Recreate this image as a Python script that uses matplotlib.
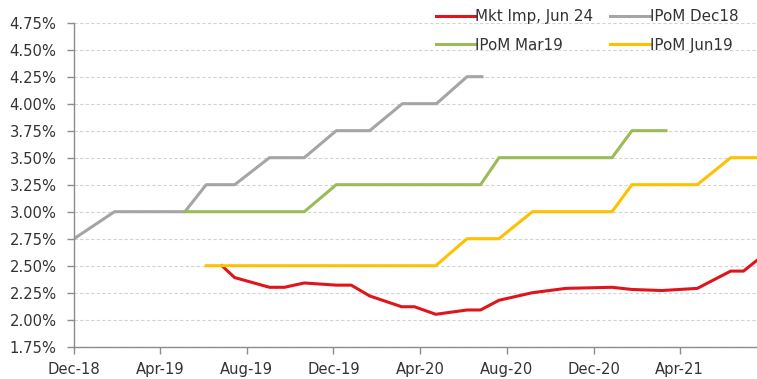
import matplotlib
matplotlib.use("Agg")
import matplotlib.pyplot as plt
import matplotlib.dates as mdates
from matplotlib.ticker import FuncFormatter, MultipleLocator
import pandas as pd

plt.rcParams['font.family'] = ['DejaVu Sans']

# Policy rate paths (%), dated at each monetary policy meeting
mkt_dates = ["2019-06-27", "2019-07-15", "2019-09-02", "2019-09-23", "2019-10-21",
             "2019-12-05", "2019-12-26", "2020-01-21", "2020-03-06", "2020-03-24",
             "2020-04-23", "2020-06-06", "2020-06-25", "2020-07-21", "2020-09-06",
             "2020-10-23", "2020-12-27", "2021-01-24", "2021-03-07", "2021-04-26",
             "2021-06-12", "2021-06-30", "2021-07-19"]
mkt_vals = [2.50, 2.39, 2.30, 2.30, 2.34,
            2.32, 2.32, 2.22, 2.12, 2.12,
            2.05, 2.09, 2.09, 2.18, 2.25,
            2.29, 2.30, 2.28, 2.27, 2.29,
            2.45, 2.45, 2.55]

dec18_dates = ["2018-12-01", "2019-01-27", "2019-05-06", "2019-06-05", "2019-07-15",
               "2019-09-02", "2019-10-21", "2019-12-05", "2020-01-21", "2020-03-07",
               "2020-04-24", "2020-06-06", "2020-06-27"]
dec18_vals = [2.75, 3.00, 3.00, 3.25, 3.25,
              3.50, 3.50, 3.75, 3.75, 4.00,
              4.00, 4.25, 4.25]

mar19_dates = ["2019-05-06", "2019-10-21", "2019-12-05", "2020-06-25", "2020-07-21",
               "2020-12-27", "2021-01-24", "2021-03-13"]
mar19_vals = [3.00, 3.00, 3.25, 3.25, 3.50,
              3.50, 3.75, 3.75]

jun19_dates = ["2019-06-05", "2020-04-23", "2020-06-06", "2020-07-21", "2020-09-06",
               "2020-12-27", "2021-01-24", "2021-04-26", "2021-06-12", "2021-07-19"]
jun19_vals = [2.50, 2.50, 2.75, 2.75, 3.00,
              3.00, 3.25, 3.25, 3.50, 3.50]

x_start, x_end = "2018-12-01", "2021-07-19"
y_min, y_max, y_step = 1.75, 4.75, 0.25

fig = plt.figure(figsize=(7.57, 3.79), dpi=100)
ax = fig.add_axes([0.0978, 0.0852, 0.9022, 0.855])

lw = 2.2
l_mkt, = ax.plot(pd.to_datetime(mkt_dates), mkt_vals, color="#E0141B", lw=lw,
                 label="Mkt Imp, Jun 24", solid_joinstyle="round")
l_dec, = ax.plot(pd.to_datetime(dec18_dates), dec18_vals, color="#A5A5A5", lw=lw,
                 label="IPoM Dec18")
l_mar, = ax.plot(pd.to_datetime(mar19_dates), mar19_vals, color="#9BBB59", lw=lw,
                 label="IPoM Mar19")
l_jun, = ax.plot(pd.to_datetime(jun19_dates), jun19_vals, color="#FFC000", lw=lw,
                 label="IPoM Jun19")

ax.set_xlim(pd.Timestamp(x_start), pd.Timestamp(x_end))
ax.set_ylim(y_min, y_max)

ax.yaxis.set_major_locator(MultipleLocator(y_step))
ax.yaxis.set_major_formatter(FuncFormatter(lambda v, p: f"{v:.2f}%"))
ax.xaxis.set_major_locator(mdates.MonthLocator(bymonth=[4, 8, 12], bymonthday=1))
ax.xaxis.set_major_formatter(mdates.DateFormatter("%b-%y"))

ax.grid(axis="y", color="#D3D3D3", linestyle=(0, (3, 2)), linewidth=0.8)
ax.set_axisbelow(True)
for side in ("top", "right"):
    ax.spines[side].set_visible(False)
for side in ("left", "bottom"):
    ax.spines[side].set_color("#8C8C8C")
    ax.spines[side].set_linewidth(1.0)

ax.tick_params(axis="both", colors="#8C8C8C", labelcolor="#333333",
               labelsize=10.6, length=5, width=1.0, direction="out")
ax.tick_params(axis="x", pad=6)
ax.tick_params(axis="y", pad=7.5)

leg = fig.legend(handles=[l_mkt, l_mar, l_dec, l_jun], ncol=2, frameon=False,
                 loc="upper left", bbox_to_anchor=(436 / 757, 1 - 9 / 379),
                 fontsize=10.9, handlelength=2.6, handletextpad=0.0,
                 columnspacing=1.1, labelspacing=0.9, borderpad=0.0,
                 borderaxespad=0.0)
for t in leg.get_texts():
    t.set_color("#333333")

fig.savefig("out.png", dpi=100)
